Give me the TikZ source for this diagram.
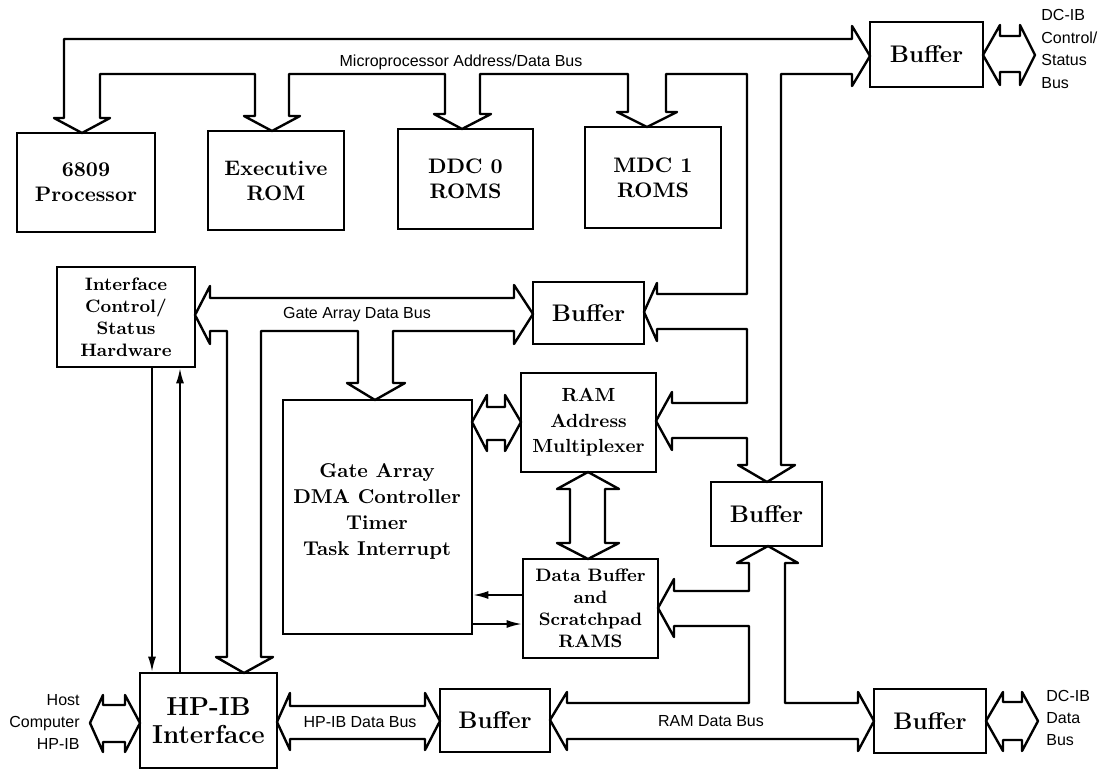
\documentclass[tikz,border=0pt]{standalone}
\usepackage{fontspec}
\newfontfamily\lsans{Liberation Sans}
\usetikzlibrary{arrows.meta}
\newcommand\ftop{\fontsize{10.5}{12.5}\selectfont\bfseries}
\newcommand\fbuf{\fontsize{12}{14}\selectfont\bfseries}
\newcommand\fhp{\fontsize{13}{14}\selectfont\bfseries}
\newcommand\fif{\fontsize{9}{11}\selectfont\bfseries}
\newcommand\fga{\fontsize{10}{13}\selectfont\bfseries}
\newcommand\fram{\fontsize{9.5}{12.7}\selectfont\bfseries}
\newcommand\fdb{\fontsize{9}{11}\selectfont\bfseries}
\tikzset{
  box/.style={draw, line width=1.4pt, align=center, inner sep=0pt},
  bus/.style={draw, line width=1.2pt, line join=round},
  sig/.style={draw, line width=0.8pt, -{Latex[length=7.5pt,width=4pt]}},
  lbl/.style={font=\lsans\fontsize{8}{11.2}\selectfont, inner sep=0pt},
}
\newcommand\blk[7]{\node[box,font=#6,minimum width={(#4-#2)*0.5pt},minimum height={(#5-#3)*0.5pt}] (#1) at ({(#2+#4)/2},{(#3+#5)/2}) {#7};}
\begin{document}
\begin{tikzpicture}[x=0.5pt,y=-0.5pt]
\useasboundingbox (0,0) rectangle (1103,771);
\fill[white] (0,0) rectangle (1103,771);

% blocks
\blk{proc}{17}{133}{155}{232}{\ftop}{6809\\Processor}
\blk{erom}{208}{131}{344}{230}{\ftop}{Executive\\ROM}
\blk{ddc}{398}{129}{533}{229}{\ftop}{DDC 0\\ROMS}
\blk{mdc}{585}{127}{721}{228}{\ftop}{MDC 1\\ROMS}
\blk{tbuf}{870}{22}{983}{87}{\fbuf}{Buffer}
\blk{iface}{57}{267}{195}{367}{\fif}{Interface\\Control/\\Status\\Hardware}
\blk{mbuf}{533}{282}{644}{344}{\fbuf}{Buffer}
\blk{ram}{521}{373}{656}{472}{\fram}{RAM\\Address\\Multiplexer}
\blk{ga}{283}{400}{472}{634}{\fga}{}
\node[font=\fga, align=center, inner sep=0pt] (gatxt) at (377,511) {Gate Array\\DMA Controller\\Timer\\Task Interrupt};
\blk{rbuf}{711}{482}{822}{546}{\fbuf}{Buffer}
\blk{dbuf}{523}{559}{658}{658}{\fdb}{Data Buffer\\and\\Scratchpad\\RAMS}
\blk{hpib}{140}{673}{277}{768}{\fhp}{HP-IB\\Interface}
\blk{bbuf}{440}{689}{550}{752}{\fbuf}{Buffer}
\blk{brbuf}{874}{689}{986}{753}{\fbuf}{Buffer}

% microprocessor address/data bus (one outline)
\draw[bus] (82,133) -- (54,118) -- (64,118) -- (64,39) -- (852,39) -- (852,26) -- (870,56) -- (852,86) -- (852,74)
  -- (781,74) -- (781,465) -- (795,465) -- (767,482) -- (738,465) -- (747,465)
  -- (747,438) -- (672,438) -- (672,450) -- (656,421) -- (672,392) -- (672,403) -- (747,403)
  -- (747,329) -- (657,329) -- (657,341) -- (644,312) -- (657,283) -- (657,294) -- (747,294)
  -- (747,74) -- (666,74) -- (666,112) -- (677,112) -- (647,127) -- (617,112) -- (628,112) -- (628,74)
  -- (480,74) -- (480,114) -- (491,114) -- (462,129) -- (434,114) -- (445,114) -- (445,74)
  -- (289,74) -- (289,116) -- (300,116) -- (272,131) -- (244,116) -- (255,116) -- (255,74)
  -- (100,74) -- (100,118) -- (110,118) -- cycle;

% gate array data bus
\draw[bus] (195,315) -- (210,286) -- (210,298) -- (514,298) -- (514,285) -- (533,314) -- (514,344) -- (514,331)
  -- (393,331) -- (393,383) -- (405,383) -- (375,400) -- (347,383) -- (358,383) -- (358,331)
  -- (261,331) -- (261,657) -- (273,657) -- (244,673) -- (216,657) -- (227,657) -- (227,331)
  -- (210,331) -- (210,344) -- cycle;

% RAM data bus
\draw[bus] (550,720) -- (567,692) -- (567,703) -- (749,703) -- (749,626) -- (674,626) -- (674,637) -- (658,608)
  -- (674,579) -- (674,591) -- (749,591) -- (749,563) -- (737,563) -- (768,546) -- (798,563) -- (785,563)
  -- (785,703) -- (858,703) -- (858,692) -- (874,721) -- (858,751) -- (858,739) -- (567,739) -- (567,750) -- cycle;

% HP-IB data bus
\draw[bus] (277,722) -- (290,693) -- (290,706) -- (425,706) -- (425,693) -- (440,721) -- (425,750) -- (425,739)
  -- (290,739) -- (290,750) -- cycle;
% host HP-IB
\draw[bus] (90,723) -- (103,695) -- (103,705) -- (125,705) -- (125,695) -- (140,723) -- (125,752) -- (125,742)
  -- (103,742) -- (103,752) -- cycle;
% DC-IB control/status
\draw[bus] (983,55) -- (1000,25) -- (1000,36) -- (1020,36) -- (1020,25) -- (1035,55) -- (1020,85) -- (1020,72)
  -- (1000,72) -- (1000,85) -- cycle;
% DC-IB data
\draw[bus] (986,721) -- (1003,692) -- (1003,702) -- (1022,702) -- (1022,692) -- (1038,721) -- (1022,751) -- (1022,740)
  -- (1003,740) -- (1003,751) -- cycle;
% gate array <-> RAM address multiplexer
\draw[bus] (472,422) -- (487,395) -- (487,407) -- (505,407) -- (505,395) -- (521,422) -- (505,451) -- (505,440)
  -- (487,440) -- (487,451) -- cycle;
% RAM address multiplexer <-> data buffer
\draw[bus] (588,472) -- (619,489) -- (605,489) -- (605,543) -- (619,543) -- (588,559) -- (557,543) -- (570,543)
  -- (570,489) -- (557,489) -- cycle;

% single-line signals
\coordinate (xa) at (152,0);
\coordinate (xb) at (180,0);
\coordinate (ya) at (0,595);
\coordinate (yb) at (0,624);
\draw[sig] (xa |- iface.south) -- (xa |- hpib.north);
\draw[sig] (xb |- hpib.north) -- (xb |- iface.south);
\draw[sig] (dbuf.west |- ya) -- (ga.east |- ya);
\draw[sig] (ga.east |- yb) -- (dbuf.west |- yb);

% labels
\node[lbl] (lmp) at (461,62) {Microprocessor Address/Data Bus};
\node[lbl] (lga) at (357,315) {Gate Array Data Bus};
\node[lbl] (lhp) at (360,722) {HP-IB Data Bus};
\node[lbl] (lram) at (711,721) {RAM Data Bus};
\node[lbl, anchor=east, align=right] (lhost) at (80,722) {Host\\Computer\\HP-IB};
\node[lbl, anchor=west, align=left] (ldc1) at (1041,49) {DC-IB\\Control/\\Status\\Bus};
\node[lbl, anchor=west, align=left] (ldc2) at (1046,718) {DC-IB\\Data\\Bus};
\end{tikzpicture}
\end{document}
